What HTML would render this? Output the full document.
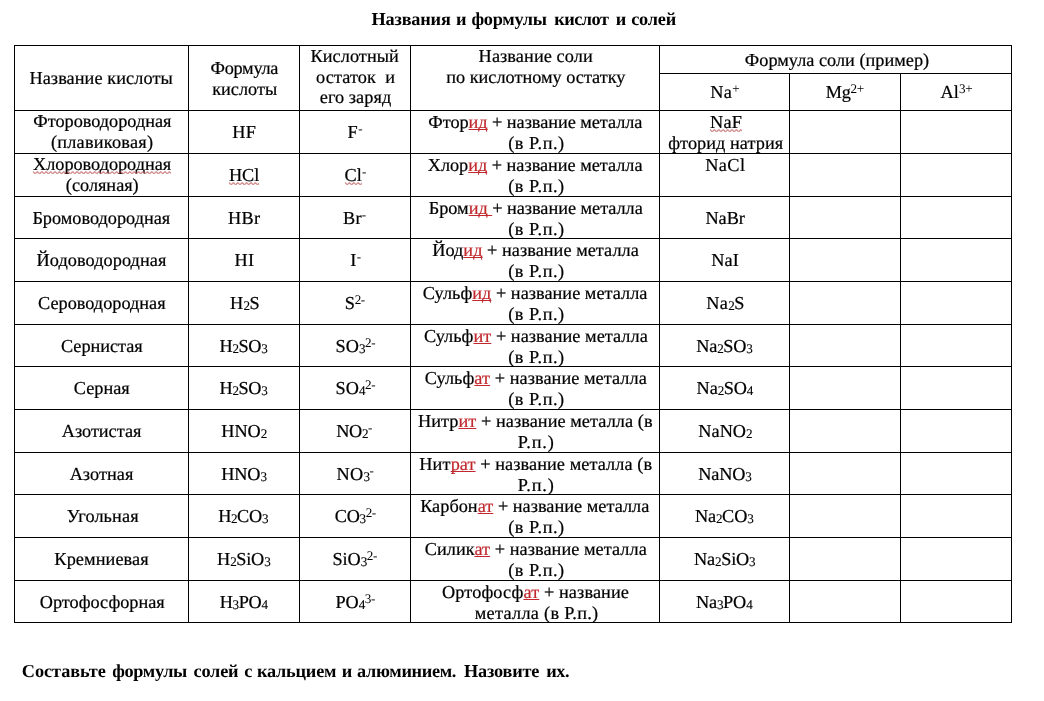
<!DOCTYPE html>
<html lang="ru"><head><meta charset="utf-8"><title>Названия и формулы кислот и солей</title><style>
html,body{margin:0;padding:0;background:#fff}
#p{position:relative;width:1044px;height:701px;background:#fff;overflow:hidden;font-family:"Liberation Serif",serif;font-size:18.25px;color:#000}
.l{position:absolute;background:#000}
.t{position:absolute;letter-spacing:0px;word-spacing:0px;-webkit-text-stroke:0.22px;text-rendering:geometricPrecision;text-align:center;white-space:pre;line-height:22px;height:22px}
.b{font-weight:bold;-webkit-text-stroke:0}
.sb{font-size:72%;vertical-align:-0.108em;line-height:0;letter-spacing:-0.5px;-webkit-text-stroke:0.1px}
.sp{font-size:72%;vertical-align:0.373em;line-height:0;letter-spacing:-0.4px;-webkit-text-stroke:0}
.r{color:#c0282d;text-decoration:underline;text-decoration-thickness:1px;text-underline-offset:1.2px;text-decoration-skip-ink:none}
.w{position:relative}
.w svg{position:absolute;left:0;top:0.93em;width:100%;height:3.4px;overflow:hidden}
</style></head><body><svg width="0" height="0" style="position:absolute"><defs><pattern id="z" width="4.4" height="3.4" patternUnits="userSpaceOnUse"><path d="M-0.2 0.2 L2.2 2.9 L4.6 0.2" stroke="#a51c1c" stroke-width="0.85" fill="none"/></pattern></defs></svg><div id="p">
<div class="l" style="left:14px;top:45px;width:998px;height:1px"></div>
<div class="l" style="left:14px;top:110px;width:998px;height:1px"></div>
<div class="l" style="left:14px;top:153px;width:998px;height:1px"></div>
<div class="l" style="left:14px;top:196px;width:998px;height:1px"></div>
<div class="l" style="left:14px;top:238px;width:998px;height:1px"></div>
<div class="l" style="left:14px;top:281px;width:998px;height:1px"></div>
<div class="l" style="left:14px;top:324px;width:998px;height:1px"></div>
<div class="l" style="left:14px;top:366px;width:998px;height:1px"></div>
<div class="l" style="left:14px;top:409px;width:998px;height:1px"></div>
<div class="l" style="left:14px;top:452px;width:998px;height:1px"></div>
<div class="l" style="left:14px;top:494px;width:998px;height:1px"></div>
<div class="l" style="left:14px;top:537px;width:998px;height:1px"></div>
<div class="l" style="left:14px;top:580px;width:998px;height:1px"></div>
<div class="l" style="left:14px;top:622px;width:998px;height:1px"></div>
<div class="l" style="left:659px;top:73px;width:353px;height:1px"></div>
<div class="l" style="left:14px;top:45px;width:1px;height:578px"></div>
<div class="l" style="left:188px;top:45px;width:1px;height:578px"></div>
<div class="l" style="left:299px;top:45px;width:1px;height:578px"></div>
<div class="l" style="left:410px;top:45px;width:1px;height:578px"></div>
<div class="l" style="left:659px;top:45px;width:1px;height:578px"></div>
<div class="l" style="left:789px;top:73px;width:1px;height:550px"></div>
<div class="l" style="left:900px;top:73px;width:1px;height:550px"></div>
<div class="l" style="left:1011px;top:45px;width:1px;height:578px"></div>
<div class="t" style="left:14.61px;width:173px;top:67.09px;letter-spacing:0.077px;">Название кислоты</div>
<div class="t" style="left:189.33px;width:110px;top:57.09px;letter-spacing:-0.259px;">Формула</div>
<div class="t" style="left:189.69px;width:110px;top:78.09px;letter-spacing:0.023px;">кислоты</div>
<div class="t" style="left:299.70px;width:110px;top:45.09px;letter-spacing:0.082px;">Кислотный</div>
<div class="t" style="left:300.65px;width:110px;top:66.09px;letter-spacing:0.091px;">остаток &nbsp;и</div>
<div class="t" style="left:300.54px;width:110px;top:86.09px;letter-spacing:0.066px;">его заряд</div>
<div class="t" style="left:411.72px;width:248px;top:45.09px;letter-spacing:0.091px;">Название соли</div>
<div class="t" style="left:411.85px;width:248px;top:66.09px;letter-spacing:0.008px;">по кислотному остатку</div>
<div class="t" style="left:661.51px;width:351px;top:49.09px;letter-spacing:0.015px;">Формула соли (пример)</div>
<div class="t" style="left:660.17px;width:129px;top:81.09px;letter-spacing:0.364px;">Na<span class="sp">+</span></div>
<div class="t" style="left:789.75px;width:110px;top:81.09px;letter-spacing:-0.300px;">Mg<span class="sp">2+</span></div>
<div class="t" style="left:901.41px;width:110px;top:81.09px;letter-spacing:0.084px;">Al<span class="sp">3+</span></div>
<div class="t" style="left:15.87px;width:173px;top:110.09px;letter-spacing:-0.011px;">Фтороводородная</div>
<div class="t" style="left:15.57px;width:173px;top:131.09px;letter-spacing:0.241px;">(плавиковая)</div>
<div class="t" style="left:189.35px;width:110px;top:121.09px;letter-spacing:0.400px;">HF</div>
<div class="t" style="left:299.88px;width:110px;top:121.09px;letter-spacing:0.400px;">F<span class="sp">-</span></div>
<div class="t" style="left:411.39px;width:248px;top:111.09px;letter-spacing:-0.037px;">Фтор<span class="r">ид</span> + название металла</div>
<div class="t" style="left:412.48px;width:248px;top:132.09px;letter-spacing:0.558px;">(в Р.п.)</div>
<div class="t" style="left:661.59px;width:129px;top:111.09px;letter-spacing:0.249px;"><span class="w">NaF<svg><rect width="100%" height="3.4" fill="url(#z)"/></svg></span></div>
<div class="t" style="left:661.26px;width:129px;top:132.09px;letter-spacing:0.055px;">фторид натрия</div>
<div class="t" style="left:15.60px;width:173px;top:153.09px;letter-spacing:-0.024px;"><span class="w">Хлороводородная<svg><rect width="100%" height="3.4" fill="url(#z)"/></svg></span></div>
<div class="t" style="left:15.77px;width:173px;top:174.09px;letter-spacing:-0.007px;">(соляная)</div>
<div class="t" style="left:189.05px;width:110px;top:164.09px;letter-spacing:-0.097px;"><span class="w">HCl<svg><rect width="100%" height="3.4" fill="url(#z)"/></svg></span></div>
<div class="t" style="left:300.26px;width:110px;top:164.09px;letter-spacing:0.064px;"><span class="w">Cl<svg><rect width="100%" height="3.4" fill="url(#z)"/></svg></span><span class="sp">-</span></div>
<div class="t" style="left:411.14px;width:248px;top:154.09px;letter-spacing:-0.018px;">Хлор<span class="r">ид</span> + название металла</div>
<div class="t" style="left:412.48px;width:248px;top:175.09px;letter-spacing:0.558px;">(в Р.п.)</div>
<div class="t" style="left:660.83px;width:129px;top:154.09px;letter-spacing:0.400px;">NaCl</div>
<div class="t" style="left:14.81px;width:173px;top:207.09px;letter-spacing:-0.001px;">Бромоводородная</div>
<div class="t" style="left:189.23px;width:110px;top:207.09px;letter-spacing:0.274px;">HBr</div>
<div class="t" style="left:299.37px;width:110px;top:207.09px;letter-spacing:0.187px;">Br<span class="sp">-</span></div>
<div class="t" style="left:411.80px;width:248px;top:197.09px;letter-spacing:-0.024px;">Бром<span class="r">ид </span>+ название металла</div>
<div class="t" style="left:412.48px;width:248px;top:218.09px;letter-spacing:0.558px;">(в Р.п.)</div>
<div class="t" style="left:660.64px;width:129px;top:207.09px;letter-spacing:-0.088px;">NaBr</div>
<div class="t" style="left:14.97px;width:173px;top:249.09px;letter-spacing:0.074px;">Йодоводородная</div>
<div class="t" style="left:189.47px;width:110px;top:249.09px;letter-spacing:0.400px;">HI</div>
<div class="t" style="left:300.38px;width:110px;top:249.09px;letter-spacing:0.400px;">I<span class="sp">-</span></div>
<div class="t" style="left:411.52px;width:248px;top:239.09px;letter-spacing:0.041px;">Йод<span class="r">ид</span> + название металла</div>
<div class="t" style="left:412.48px;width:248px;top:260.09px;letter-spacing:0.558px;">(в Р.п.)</div>
<div class="t" style="left:660.62px;width:129px;top:249.09px;letter-spacing:0.133px;">NaI</div>
<div class="t" style="left:15.30px;width:173px;top:292.09px;letter-spacing:0.004px;">Сероводородная</div>
<div class="t" style="left:190.04px;width:110px;top:292.09px;letter-spacing:0.353px;">H<span class="sb">2</span>S</div>
<div class="t" style="left:299.85px;width:110px;top:292.09px;letter-spacing:-0.299px;">S<span class="sp">2-</span></div>
<div class="t" style="left:411.16px;width:248px;top:282.09px;letter-spacing:0.025px;">Сульф<span class="r">ид</span> + название металла</div>
<div class="t" style="left:412.48px;width:248px;top:303.09px;letter-spacing:0.558px;">(в Р.п.)</div>
<div class="t" style="left:661.05px;width:129px;top:292.09px;letter-spacing:0.400px;">Na<span class="sb">2</span>S</div>
<div class="t" style="left:15.34px;width:173px;top:335.09px;letter-spacing:-0.025px;">Сернистая</div>
<div class="t" style="left:188.45px;width:110px;top:335.09px;letter-spacing:-0.300px;">H<span class="sb">2</span>SO<span class="sb">3</span></div>
<div class="t" style="left:300.35px;width:110px;top:335.09px;letter-spacing:0.020px;">SO<span class="sb">3</span><span class="sp">2-</span></div>
<div class="t" style="left:411.87px;width:248px;top:325.09px;letter-spacing:0.046px;">Сульф<span class="r">ит</span> + название металла</div>
<div class="t" style="left:412.48px;width:248px;top:346.09px;letter-spacing:0.558px;">(в Р.п.)</div>
<div class="t" style="left:659.80px;width:129px;top:335.09px;letter-spacing:-0.129px;">Na<span class="sb">2</span>SO<span class="sb">3</span></div>
<div class="t" style="left:15.29px;width:173px;top:377.09px;letter-spacing:0.002px;">Серная</div>
<div class="t" style="left:188.45px;width:110px;top:377.09px;letter-spacing:-0.300px;">H<span class="sb">2</span>SO<span class="sb">3</span></div>
<div class="t" style="left:300.35px;width:110px;top:377.09px;letter-spacing:0.020px;">SO<span class="sb">4</span><span class="sp">2-</span></div>
<div class="t" style="left:411.80px;width:248px;top:367.09px;letter-spacing:0.061px;">Сульф<span class="r">ат</span> + название металла</div>
<div class="t" style="left:412.48px;width:248px;top:388.09px;letter-spacing:0.558px;">(в Р.п.)</div>
<div class="t" style="left:660.27px;width:129px;top:377.09px;letter-spacing:-0.104px;">Na<span class="sb">2</span>SO<span class="sb">4</span></div>
<div class="t" style="left:15.08px;width:173px;top:420.09px;letter-spacing:-0.001px;">Азотистая</div>
<div class="t" style="left:189.07px;width:110px;top:420.09px;letter-spacing:-0.021px;">HNO<span class="sb">2</span></div>
<div class="t" style="left:299.13px;width:110px;top:420.09px;letter-spacing:-0.300px;">NO<span class="sb">2</span><span class="sp">-</span></div>
<div class="t" style="left:411.27px;width:248px;top:410.09px;letter-spacing:0.064px;">Нитр<span class="r">ит</span> + название металла (в</div>
<div class="t" style="left:412.14px;width:248px;top:431.09px;letter-spacing:0.800px;">Р.п.)</div>
<div class="t" style="left:660.74px;width:129px;top:420.09px;letter-spacing:0.018px;">NaNO<span class="sb">2</span></div>
<div class="t" style="left:15.04px;width:173px;top:463.09px;letter-spacing:0.056px;">Азотная</div>
<div class="t" style="left:188.88px;width:110px;top:463.09px;letter-spacing:-0.142px;">HNO<span class="sb">3</span></div>
<div class="t" style="left:300.05px;width:110px;top:463.09px;letter-spacing:0.279px;">NO<span class="sb">3</span><span class="sp">-</span></div>
<div class="t" style="left:411.69px;width:248px;top:453.09px;letter-spacing:0.073px;">Нит<span class="r">рат</span> + название металла (в</div>
<div class="t" style="left:412.14px;width:248px;top:474.09px;letter-spacing:0.800px;">Р.п.)</div>
<div class="t" style="left:660.28px;width:129px;top:463.09px;letter-spacing:-0.197px;">NaNO<span class="sb">3</span></div>
<div class="t" style="left:16.25px;width:173px;top:505.09px;letter-spacing:0.114px;">Угольная</div>
<div class="t" style="left:188.07px;width:110px;top:505.09px;letter-spacing:-0.293px;">H<span class="sb">2</span>CO<span class="sb">3</span></div>
<div class="t" style="left:300.34px;width:110px;top:505.09px;letter-spacing:-0.300px;">CO<span class="sb">3</span><span class="sp">2-</span></div>
<div class="t" style="left:410.76px;width:248px;top:495.09px;letter-spacing:0.024px;">Карбон<span class="r">ат</span> + название металла</div>
<div class="t" style="left:412.48px;width:248px;top:516.09px;letter-spacing:0.558px;">(в Р.п.)</div>
<div class="t" style="left:659.67px;width:129px;top:505.09px;letter-spacing:-0.150px;">Na<span class="sb">2</span>CO<span class="sb">3</span></div>
<div class="t" style="left:15.08px;width:173px;top:548.09px;letter-spacing:0.097px;">Кремниевая</div>
<div class="t" style="left:188.66px;width:110px;top:548.09px;letter-spacing:-0.161px;">H<span class="sb">2</span>SiO<span class="sb">3</span></div>
<div class="t" style="left:299.71px;width:110px;top:548.09px;letter-spacing:-0.056px;">SiO<span class="sb">3</span><span class="sp">2-</span></div>
<div class="t" style="left:411.78px;width:248px;top:538.09px;letter-spacing:0.059px;">Силик<span class="r">ат</span> + название металла</div>
<div class="t" style="left:412.48px;width:248px;top:559.09px;letter-spacing:0.558px;">(в Р.п.)</div>
<div class="t" style="left:660.14px;width:129px;top:548.09px;letter-spacing:-0.148px;">Na<span class="sb">2</span>SiO<span class="sb">3</span></div>
<div class="t" style="left:15.74px;width:173px;top:591.09px;letter-spacing:-0.002px;">Ортофосфорная</div>
<div class="t" style="left:188.62px;width:110px;top:591.09px;letter-spacing:-0.247px;">H<span class="sb">3</span>PO<span class="sb">4</span></div>
<div class="t" style="left:300.25px;width:110px;top:591.09px;letter-spacing:-0.026px;">PO<span class="sb">4</span><span class="sp">3-</span></div>
<div class="t" style="left:411.58px;width:248px;top:581.09px;letter-spacing:0.110px;">Ортофосф<span class="r">ат</span> + название</div>
<div class="t" style="left:412.58px;width:248px;top:602.09px;letter-spacing:0.286px;">металла (в Р.п.)</div>
<div class="t" style="left:659.65px;width:129px;top:591.09px;letter-spacing:-0.160px;">Na<span class="sb">3</span>PO<span class="sb">4</span></div>
<div class="t b" style="left:371.54px;top:8.09px;text-align:left;letter-spacing:-0.181px;">Названия</div>
<div class="t b" style="left:455.90px;top:8.09px;text-align:left;letter-spacing:0.800px;">и</div>
<div class="t b" style="left:471.46px;top:8.09px;text-align:left;letter-spacing:-0.269px;">формулы</div>
<div class="t b" style="left:554.17px;top:8.09px;text-align:left;letter-spacing:-0.498px;">кислот</div>
<div class="t b" style="left:615.65px;top:8.09px;text-align:left;letter-spacing:0.800px;">и</div>
<div class="t b" style="left:631.14px;top:8.09px;text-align:left;letter-spacing:-0.164px;">солей</div>
<div class="t b" style="left:21.82px;top:660.09px;text-align:left;letter-spacing:-0.069px;">Составьте</div>
<div class="t b" style="left:112.34px;top:660.09px;text-align:left;letter-spacing:-0.370px;">формулы</div>
<div class="t b" style="left:193.47px;top:660.09px;text-align:left;letter-spacing:-0.170px;">солей</div>
<div class="t b" style="left:244.23px;top:660.09px;text-align:left;letter-spacing:-0.800px;">с</div>
<div class="t b" style="left:256.99px;top:660.09px;text-align:left;letter-spacing:-0.215px;">кальцием</div>
<div class="t b" style="left:341.66px;top:660.09px;text-align:left;letter-spacing:-0.800px;">и</div>
<div class="t b" style="left:357.11px;top:660.09px;text-align:left;letter-spacing:-0.347px;">алюминием.</div>
<div class="t b" style="left:463.94px;top:660.09px;text-align:left;letter-spacing:-0.171px;">Назовите</div>
<div class="t b" style="left:546.17px;top:660.09px;text-align:left;letter-spacing:-0.447px;">их.</div>
</div></body></html>
